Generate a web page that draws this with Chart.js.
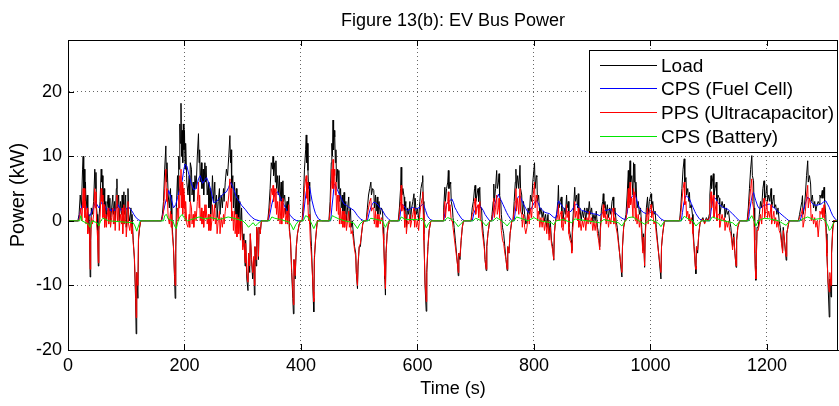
<!DOCTYPE html>
<html>
<head>
<meta charset="utf-8">
<script src="https://cdn.jsdelivr.net/npm/chart.js@4.4.1/dist/chart.umd.min.js"></script>
<style>
  html, body { margin: 0; padding: 0; background: #fff; }
  #wrap { width: 839px; height: 406px; }
</style>
</head>
<body>
<div id="wrap"><canvas id="busPowerctr" width="839" height="406"></canvas></div>
<script>
// Figure 13(b): EV Bus Power -- [time (s), power (kW)]
const seriesNames = ['Load', 'CPS (Fuel Cell)', 'PPS (Ultracapacitor)', 'CPS (Battery)'];
const xTicks = [0, 200, 400, 600, 800, 1000, 1200];
const yTicks = [-20, -10, 0, 10, 20];

const loadPts = [
  [0,0],[17,0],
  [19,1],[21,4],[23,2],[25,8],[26,10],[27,5],[28,8],[29,3],[30,6],[31,2],[33,4],[34,-1],[36,1],[37,-2],[38,-8.7],[39,-3],[40,2],[42,1],[44,3],[46,8],[47,5],[48,7.5],[49,2],[50,1],[51,-2],[52,-7],[53,0],[55,3],[57,8],[58,6],[59,7],[60,3],[62,5],[63,1],[65,3],[66,0],[67,2],[69,4],[70,1],[72,3.5],[73,0],[75,2],[77,4],[78,1],[80,3],[81,-0.5],[83,5],[84,6.5],[85,2],[87,4],[88,0],[90,3],[92,1],[93,4],[94,-0.5],[96,4.5],[97,1],[99,4],[100,-1],[102,2],[103,5],[104,1],[106,0],[108,2],[109,-1],[110,1],[112,-3],[114,-6],[116,-12],[117,-17.5],[118,-8],[120,-12],[121,-3],[123,-1],[125,0],
  [160,0],
  [162,1],[164,3],[166,8],[168,11.6],[169,6],[170,9],[172,4],[174,2],[176,5],[177,1],[178,4],[179,-1],[181,-4],[183,-9],[184,-12],[185,-5],[186,2],[188,7],[189,4],[190,10],[191,8],[192,15],[193,12],[194,18.2],[195,10],[196,14],[197,9],[198,15],[199,11],[200,14],[201,8],[202,12],[204,6],[206,4],[208,7],[209,3],[210,9],[212,8],[213,4],[215,6],[216,3],[218,7],[220,5],[222,10],[224,13.5],[225,9],[226,11],[227,6],[229,9],[230,5],[232,8],[233,4],[235,9],[236,6],[237,8.5],[239,4],[241,6],[242,2],[244,5],[245,1],[247,4],[248,7],[250,3],[252,6],[253,2],[255,4],[256,0.5],[258,3],[260,5],[261,1],[263,4],[265,2],[267,5],[268,3],[270,6],[272,8],[274,7],[276,10],[278,13.2],[279,9],[280,11],[281,5],[283,7],[284,2],[286,6],[287,1],[289,5],[290,-1],[292,4],[293,0],[295,3],[296,-2],[298,2],[300,-4],[302,-2],[304,-7],[305,-3],[307,-9],[309,-10.8],[310,-5],[312,-8],[313,-2],[315,-6],[317,-9],[319,-6],[320,-11.5],[321,-4],[323,-7],[324,-1],[326,-3],[327,-6],[328,-1],[330,-2],[332,0],
  [343,0],[345,2],[347,5],[349,9],[351,8],[352,10],[353,7],[355,9],[356,6],[357,9.3],[358,5],[360,7],[361,4],[363,7],[364,3],[366,6],[367,2],[369,6.2],[370,3],[372,4],[374,1],[376,3],[377,0.5],[379,3.7],[380,-1],[382,-3],[384,-8],[386,-12],[387,-14.4],[388,-6],[390,-9],[392,-4],[394,-2],[397,-0.5],[399,0],
  [402,0],[404,3],[406,8],[408,11],[409,13.3],[410,9],[411,12],[412,7.8],[413,5],[414,6],[415,3],[416,0],[418,-4],[420,-9],[421,-12],[422,-14.1],[423,-6],[425,-3],[427,-1],[428,0],
  [448,0],[450,3],[452,9],[453,12],[454,10],[455,15.6],[456,11],[457,14],[458,13],[459,9],[460,11],[461,6],[463,8],[464,5],[465,7.8],[466,3],[468,5],[469,2],[471,4],[472,1],[474,4.4],[475,1],[477,3],[478,0],[480,2],[482,3.7],[483,0],[485,2],[486,-1],[488,0],[490,-2],[492,-4],[494,-5],[495,-8],[497,-10.5],[498,-7],[500,-4],[502,-4],[504,-2],[506,-0.5],[508,0],
  [512,0],[514,2],[516,4],[518,5],[520,6],[521,4],[523,5],[525,4.7],[526,2],[528,4],[529,1.5],[531,3.7],[532,1],[534,3],[536,1],[538,2],[540,1.6],[541,-1],[542,-3],[543,-6],[544,-9],[545,-11.5],[546,-5],[548,-2],[550,-0.5],[551,0],
  [567,0],[569,2],[571,5],[572,8.3],[573,4],[575,5],[577,3.7],[578,1],[580,3],[581,-1],[583,2],[585,1],[587,3],[588,0],[590,2],[592,3],[594,4.2],[595,1],[596,3.5],[598,1],[600,2],[602,0],[604,3],[606,5],[608,6],[609,7],[610,3],[611,-2],[612,-6],[613,-10],[615,-14],[616,-8],[618,-4],[620,-1.5],[623,0],
  [644,0],[645,2],[647,5.2],[648,3],[650,5],[652,6],[653,7.8],[654,5],[656,6],[657,5.7],[658,3],[660,2],[661,0.5],[663,-1],[665,-3],[667,-5],[669,-7],[670,-8.5],[671,-5],[673,-6],[675,-3],[677,-1],[679,0],
  [692,0],[694,2],[696,3],[698,5],[699,5.5],[700,3],[702,4],[704,5],[705,3],[707,5.2],[708,2],[710,2],[711,0],[713,-2],[715,-4],[716,-6],[718,-7.7],[719,-4],[721,-2],[724,0],
  [727,0],[728,1],[730,3],[731,5.7],[732,3],[734,5],[736,7.8],[737,5],[739,6],[740,7.3],[741,4],[743,3],[744,1],[746,-1],[748,-2],[750,-4],[752,-6],[754,-7.7],[755,-4],[757,-5],[759,-2],[762,0],
  [764,0],[766,3],[768,6],[769,8],[770,5],[772,7],[774,5],[776,8.6],[777,5],[779,4],[780,1],[782,3],[784,1],[786,-0.5],[788,0],[790,2],[792,1],[794,4],[796,3],[798,6],[800,8],[801,9],[802,5],[804,7],[805,6.8],[806,3],[808,4],[810,1],[812,2],[814,0.5],[816,1.5],[818,0],[820,1],[822,-1],[824,1],[826,-2],[828,0],[830,-3],[832,-4],[834,-6.1],[835,-2],[837,0],
  [839,1],[841,3],[842,5.5],[843,2],[845,3],[847,3.7],[848,1],[850,0],[852,2],[854,1],[856,4],[857,2],[859,3],[860,-1],[862,-2],[864,-3],[865,-4.6],[866,-1],[868,2],[870,5.2],[871,3],[873,4],[875,2],[876,4.2],[877,1],[879,2],[881,0],[883,1.5],[885,0.5],[887,2],[889,0],[891,2],[893,1],[895,3],[897,1],[899,2],[901,0],[903,1],[905,0],[907,1.5],[909,-1],[911,-2],[913,-4],[914,-1],[916,2],[918,3],[919,4.2],[920,2],[922,3],[924,1],[926,2.5],[928,0.5],[930,2],[932,1],[934,3],[936,3.7],[937,1],[939,2],[941,0],[943,-1],[945,-3],[947,-5],[949,-7],[951,-8.7],[952,-4],[954,-1],[956,0],
  [958,1],[960,4],[962,7.8],[963,5],[965,9.3],[966,6],[968,7],[970,4],[971,9],[972,6],[973,8.8],[974,4],[975,6],[977,2],[979,3],[981,1],[983,2],[985,-1],[987,-4.6],[988,-2],[990,-7.2],[991,-2],[993,2],[995,3.7],[996,1],[998,3],[1001,4.2],[1002,2],[1004,3],[1006,1],[1008,1.5],[1010,-1],[1012,-3],[1014,-5],[1016,-7],[1018,-9],[1019,-4],[1021,-2],[1024,0],
  [1050,0],[1052,2],[1054,5],[1056,8],[1058,9.6],[1059,6],[1061,6.7],[1062,4],[1064,5],[1066,3],[1067,4.4],[1068,2],[1070,2.5],[1072,1],[1073,-1],[1075,-4],[1077,-7],[1078,-8.2],[1079,-4],[1081,-5],[1083,-2],[1085,-0.5],[1087,0],[1090,0.5],[1093,-0.3],[1096,0.5],[1099,0],
  [1101,1],[1102,4],[1104,7],[1105,5],[1106,6],[1108,7.3],[1109,4],[1111,5],[1113,6],[1114,3],[1116,4],[1118,3.5],[1119,1],[1121,2],[1123,3],[1125,2],[1127,2.6],[1128,0.5],[1130,2],[1132,1],[1134,1.5],[1136,0],[1138,-1],[1140,-3],[1141,-4],[1143,-2],[1145,-5],[1147,-7.2],[1148,-3],[1150,-1],[1153,0],
  [1166,0],[1168,2],[1170,5],[1172,8],[1174,10.1],[1175,7],[1177,6.2],[1178,2],[1179,-3],[1180,-7],[1181,-9.2],[1182,-5],[1183,-1],[1185,-1],[1187,1],[1189,3],[1191,2],[1193,5],[1195,6.2],[1196,3],[1198,4],[1200,5.5],[1201,3],[1203,4],[1205,3],[1207,5],[1208,2],[1210,3],[1212,4],[1213,2],[1215,2.5],[1217,1],[1219,2],[1221,0],[1223,-1],[1225,-3],[1227,-4.6],[1228,-1],[1230,-3],[1232,-5],[1233,-6.1],[1234,-2],[1236,-1],[1238,0],
  [1254,0],[1256,1],[1258,2],[1260,3],[1261,3.9],[1262,1],[1264,2],[1266,4],[1268,7],[1270,9.3],[1271,6],[1273,7],[1275,5.7],[1276,3],[1278,4],[1280,2],[1282,3],[1284,1.5],[1286,2.5],[1288,3],[1290,2.6],[1291,4],[1293,3.5],[1295,4.7],[1296,3.5],[1298,5.2],[1299,3],[1301,1],[1302,-2],[1303,-5],[1305,-10],[1307,-14.9],[1308,-9],[1310,-11.8],[1311,-5],[1313,-1],[1315,0],[1322,0]
];

const fuelCellPts = [
  [0,0],[18,0],[20,1],[23,2],[26,3],[29,2.5],[32,2],[35,1],[38,0.8],[41,1.5],[44,2],[47,3],[50,2.5],[53,2],[56,2.5],[59,3],[62,2.5],[65,2],[68,1.5],[71,2],[74,1.5],[77,2],[80,1.5],[83,2],[86,2.5],[89,2],[92,1.5],[95,2],[98,1.5],[101,2],[104,2.2],[107,1.8],[110,1.5],[113,1],[116,0.6],[119,0.3],[122,0.1],[126,0],
  [161,0],[164,1.5],[168,3.1],[173,4.7],[177,3.5],[181,2],[185,2.5],[188,3.6],[192,5],[196,6.2],[199,8],[201,8.8],[204,8.5],[208,7],[212,5.7],[216,4.8],[220,5],[224,6.5],[227,7],[231,5.8],[234,6.2],[238,6.7],[242,5.8],[246,4.5],[250,2.8],[255,3],[260,3.5],[267,4.2],[272,4.5],[276,5.2],[279,6],[283,5.3],[289,3.7],[294,3],[298,2.4],[304,1.8],[309,1.2],[315,0.6],[321,0.2],[329,0],
  [344,0],[347,1.2],[350,2.6],[353,3.6],[356,4.2],[360,4.5],[364,3.7],[367,3.2],[370,2.6],[373,2.1],[376,1.6],[379,1.2],[382,0.8],[387,0.3],[393,0],
  [403,0],[405,1.5],[407,3.1],[409,4.5],[411,5.3],[413,5.5],[415,5.2],[417,4.1],[419,3.1],[422,2],[425,1.1],[430,0.3],[436,0],
  [451,0],[453,2],[455,3.7],[457,5.7],[459,5.6],[462,4.9],[465,4.3],[468,3.7],[471,3.1],[474,2.6],[478,2.4],[482,2.1],[486,1.9],[491,1.6],[494,1.2],[497,0.8],[502,0.3],[508,0],
  [514,0],[517,1.2],[520,2.1],[523,2.7],[525,2.9],[528,2.8],[531,2.6],[535,2.1],[540,1.6],[545,0.8],[551,0.2],[555,0],
  [569,0],[571,1.5],[574,2.6],[577,2.3],[580,1.9],[583,1.6],[587,1.8],[591,2.1],[596,1.9],[600,1.9],[605,2.2],[609,2.6],[611,2.4],[614,1.6],[617,0.8],[620,0.4],[623,0.15],[628,0],
  [645,0],[647,1.2],[650,2.6],[654,3],[659,3.4],[662,2.8],[664,2.1],[667,1.6],[670,1.1],[676,0.3],[681,0],
  [694,0],[697,1.2],[701,2.1],[704,2.2],[707,2.4],[710,2],[713,1.6],[716,1],[719,0.6],[724,0],
  [728,0],[730,1.2],[733,2.6],[736,3.5],[739,4.1],[741,3.6],[744,3.1],[747,2.5],[750,1.9],[753,1.3],[756,0.8],[762,0],
  [766,0],[768,1.5],[771,3.4],[774,3.8],[776,3.9],[779,3.2],[782,2.6],[786,1.9],[790,1.3],[794,1.6],[799,2.6],[802,3],[805,3.1],[808,2.6],[810,2.1],[815,1.6],[819,1.3],[823,1.2],[827,1.1],[833,0.6],[837,0.4],
  [840,1.5],[842,3.1],[846,2.6],[850,2.1],[855,1.6],[859,1.3],[864,1.5],[868,2.1],[871,2.5],[873,2.6],[877,2.1],[882,1.6],[887,1.5],[893,1.3],[898,1.2],[902,1.1],[908,1],[913,0.8],[917,1.2],[922,1.6],[927,1.7],[931,1.8],[935,1.5],[939,1.3],[944,0.9],[948,0.6],[953,0.3],[957,0.2],
  [960,1.2],[962,2.6],[965,3.2],[968,3.7],[971,4],[973,4.2],[976,3.4],[978,2.6],[981,2],[984,1.6],[988,1.3],[993,1.1],[997,1.3],[1001,1.6],[1005,1.4],[1010,1.1],[1014,0.7],[1018,0.3],[1024,0],
  [1053,0],[1055,1.3],[1057,2.6],[1059,3.4],[1061,3.9],[1064,3.7],[1067,3.4],[1070,2.7],[1073,2.1],[1076,1.5],[1078,1.1],[1084,0.3],[1090,0],
  [1102,0],[1104,1.5],[1107,3.1],[1110,3.6],[1113,3.3],[1115,2.9],[1119,2.5],[1124,2.1],[1129,1.9],[1133,1.8],[1137,1.4],[1141,1.1],[1147,0.5],[1153,0],
  [1168,0],[1170,1.5],[1173,3.1],[1175,4],[1177,4.4],[1179,3.7],[1181,3.1],[1184,2.3],[1187,1.9],[1191,2.1],[1195,2.4],[1200,2.5],[1204,2.6],[1208,2.3],[1213,2],[1217,1.6],[1221,1.3],[1226,0.9],[1230,0.6],[1234,0.3],[1238,0],
  [1257,0],[1260,1],[1264,2.1],[1267,3],[1270,3.7],[1273,3.3],[1276,2.9],[1280,2.5],[1284,2.4],[1289,2.5],[1293,2.6],[1297,2.9],[1301,3.1],[1304,2.6],[1307,2.1],[1310,1.4],[1313,0.8],[1318,0.2],[1321,0],[1322,0]
];

const ultracapPts = [
  [0,0],[18,0],
  [20,0.5],[22,2],[24,0],[26,5],[27,2],[28,5],[29,0.5],[30,3],[31,-0.5],[33,2],[34,-2],[36,-0.5],[37,-2.5],[38,-7.5],[39,-3],[40,0.5],[42,-0.5],[44,1],[46,5],[47,2],[48,4.5],[49,-0.5],[50,-1.5],[51,-3],[52,-6.5],[53,-1.5],[55,0.5],[57,5],[58,3],[59,4],[60,0.5],[62,2.5],[63,-1],[65,1],[66,-1],[67,0.5],[69,2],[70,-0.5],[72,1.5],[73,-1],[75,0.5],[77,2],[78,-0.5],[80,1.5],[81,-1.5],[83,2.5],[84,4],[85,0],[87,2],[88,-1.5],[90,1],[92,-0.5],[93,2],[94,-2],[96,2.5],[97,-0.5],[99,2],[100,-2.5],[102,0],[103,3],[104,-0.5],[106,-1.5],[108,0],[109,-2],[110,-0.5],[112,-3.5],[114,-5.5],[116,-11],[117,-15],[118,-8],[120,-10],[121,-2.5],[123,-1],[125,0],
  [160,0],[162,0.5],[164,1.5],[166,5],[168,8],[169,3],[170,5],[172,0.5],[174,-0.5],[176,1.5],[177,-1],[178,1],[179,-2],[181,-4],[183,-8.5],[184,-10],[185,-4],[186,-0.5],[188,2],[189,0],[190,4],[191,2],[192,7],[193,4],[194,8],[195,2],[196,6],[197,1],[198,5],[199,2],[200,4],[201,0],[202,3],[204,-0.5],[206,-1],[208,1],[209,-1],[210,3],[212,2],[213,-0.5],[215,1],[216,-1],[218,1.5],[220,0],[222,3],[224,6],[225,2],[226,4],[227,0],[229,2],[230,-0.5],[232,1.5],[233,-1],[235,2.5],[236,0.5],[237,2.5],[239,-0.5],[241,1],[242,-1.5],[244,1],[245,-1.5],[247,0],[248,2.5],[250,0],[252,2.5],[253,-0.5],[255,0.5],[256,-2],[258,0],[260,1.5],[261,-2],[263,0.5],[265,-1],[267,1],[268,-0.5],[270,1.5],[272,3],[274,2],[276,4],[278,6.5],[279,3],[280,5],[281,0],[283,1.5],[284,-1.5],[286,1.5],[287,-2],[289,1],[290,-2.5],[292,0.5],[293,-2],[295,0],[296,-3],[298,0],[300,-4.5],[302,-3],[304,-6.5],[305,-3.5],[307,-8],[309,-9.5],[310,-5],[312,-7],[313,-2],[315,-5.5],[317,-8],[319,-5.5],[320,-10],[321,-4],[323,-6],[324,-1],[326,-3],[327,-5.5],[328,-1],[330,-2],[332,0],
  [343,0],[345,1],[347,2.5],[349,5],[351,4],[352,5.5],[353,3],[355,5],[356,2],[357,5],[358,1],[360,3],[361,0],[363,3],[364,-0.5],[366,3],[367,-0.5],[369,3.5],[370,0.5],[372,2],[374,-0.5],[376,1.5],[377,-0.5],[379,2.5],[380,-1.5],[382,-3],[384,-7.5],[386,-11],[387,-13],[388,-6],[390,-8.5],[392,-4],[394,-2],[397,-0.5],[399,0],
  [402,0],[404,1.5],[406,5],[408,6.5],[409,7],[410,3.5],[411,6],[412,2.5],[413,0],[414,1],[415,-0.5],[416,-3],[418,-5.5],[420,-9],[421,-11],[422,-12.5],[423,-5.5],[425,-3],[427,-1],[428,0],
  [448,0],[450,1.5],[452,6],[453,8],[454,5],[455,9.5],[456,5],[457,8],[458,7],[459,4],[460,6],[461,1.5],[463,4],[464,1],[465,4],[466,-0.5],[468,2],[469,-0.5],[471,1.5],[472,-1],[474,1.5],[475,-1],[477,1],[478,-1.5],[480,0],[482,1.5],[483,-1],[485,0],[486,-2],[488,-1.5],[490,-3],[492,-4.5],[494,-5.5],[495,-8],[497,-10],[498,-6.5],[500,-4],[502,-3.5],[504,-2],[506,-0.5],[508,0],
  [512,0],[514,1],[516,2],[518,3],[520,3.5],[521,1.5],[523,2],[525,2],[526,-0.5],[528,1.5],[529,-1],[531,1],[532,-1],[534,1],[536,-0.5],[538,0.5],[540,0],[541,-2],[542,-3.5],[543,-6],[544,-8.5],[545,-10.5],[546,-5],[548,-2],[550,-0.5],[551,0],
  [567,0],[569,1],[571,3],[572,5.5],[573,1.5],[575,2.5],[577,1.5],[578,-1],[580,1],[581,-2],[583,0],[585,-0.5],[587,1],[588,-1],[590,0],[592,1],[594,2],[595,-1],[596,1.5],[598,-1],[600,0],[602,-1.5],[604,1],[606,2.5],[608,3.5],[609,4.5],[610,1],[611,-3],[612,-6],[613,-9.5],[615,-12.5],[616,-7.5],[618,-4],[620,-1.5],[623,0],
  [644,0],[645,1],[647,3],[648,0.5],[650,2.5],[652,3],[653,4.5],[654,1.5],[656,2.5],[657,2.5],[658,0],[660,0],[661,-1],[663,-2.5],[665,-4],[667,-5.5],[669,-7],[670,-8],[671,-5],[673,-5.5],[675,-3],[677,-1],[679,0],
  [692,0],[694,1],[696,1.5],[698,3],[699,3.5],[700,1],[702,2],[704,2.5],[705,0.5],[707,3],[708,0],[710,0],[711,-1.5],[713,-3],[715,-4.5],[716,-6],[718,-7.5],[719,-4],[721,-2],[724,0],
  [727,0],[728,0.5],[730,1.5],[731,3.5],[732,0.5],[734,2],[736,4],[737,1],[739,2],[740,3.5],[741,0.5],[743,0],[744,-1.5],[746,-3],[748,-3.5],[750,-5],[752,-6],[754,-7.5],[755,-4],[757,-5],[759,-2],[762,0],
  [764,0],[766,1.5],[768,3],[769,5],[770,1.5],[772,3.5],[774,1],[776,5],[777,1.5],[779,1],[780,-1],[782,1],[784,-1],[786,-2],[788,-1],[790,1],[792,-0.5],[794,2],[796,0.5],[798,3.5],[800,5],[801,6],[802,2],[804,4],[805,3.5],[806,0],[808,1.5],[810,-1],[812,0.5],[814,-1],[816,0.5],[818,-1.5],[820,0],[822,-2],[824,0],[826,-3],[828,-1],[830,-3.5],[832,-4.5],[834,-6],[835,-2],[837,0],
  [839,0],[841,1],[842,2.5],[843,0],[845,1],[847,1.5],[848,-1],[850,-1.5],[852,0.5],[854,-0.5],[856,2.5],[857,0.5],[859,1.5],[860,-2],[862,-3],[864,-3.5],[865,-5],[866,-2],[868,0],[870,3],[871,0.5],[873,1.5],[875,0],[876,2],[877,-1],[879,0],[881,-1.5],[883,0],[885,-1],[887,0.5],[889,-1.5],[891,0.5],[893,-0.5],[895,1.5],[897,-0.5],[899,0.5],[901,-1.5],[903,0],[905,-1.5],[907,0],[909,-2],[911,-3],[913,-4.5],[914,-1.5],[916,0.5],[918,1.5],[919,2.5],[920,0.5],[922,1.5],[924,-0.5],[926,1],[928,-1],[930,0.5],[932,-0.5],[934,1.5],[936,2],[937,-0.5],[939,0.5],[941,-1],[943,-2],[945,-3.5],[947,-5],[949,-6.5],[951,-8],[952,-4],[954,-1],[956,0],
  [958,0],[960,2],[962,5],[963,2],[965,6],[966,2.5],[968,3.5],[970,0.5],[971,5],[972,2],[973,4.5],[974,0],[975,2],[977,-0.5],[979,1],[981,-1],[983,0.5],[985,-2],[987,-5],[988,-2.5],[990,-7],[991,-2.5],[993,0.5],[995,2],[996,-0.5],[998,1.5],[1001,2.5],[1002,0.5],[1004,1.5],[1006,-0.5],[1008,0],[1010,-2],[1012,-3.5],[1014,-5],[1016,-6.5],[1018,-8],[1019,-4],[1021,-2],[1024,0],
  [1050,0],[1052,1],[1054,3],[1056,5],[1058,6],[1059,2.5],[1061,3],[1062,0.5],[1064,1.5],[1066,0],[1067,1],[1068,-0.5],[1070,0.5],[1072,-0.5],[1073,-2],[1075,-4.5],[1077,-7],[1078,-7.5],[1079,-4],[1081,-4.5],[1083,-2],[1085,-0.5],[1087,0],[1090,0.3],[1093,-0.5],[1096,0.3],[1099,0],
  [1101,0.5],[1102,2.5],[1104,4.5],[1105,2],[1106,3],[1108,4],[1109,0.5],[1111,1.5],[1113,3],[1114,0],[1116,1],[1118,1],[1119,-1],[1121,0],[1123,1],[1125,0],[1127,0.5],[1128,-1.5],[1130,0],[1132,-1],[1134,0],[1136,-1.5],[1138,-2],[1140,-3.5],[1141,-4.5],[1143,-2.5],[1145,-5],[1147,-7],[1148,-3],[1150,-1],[1153,0],
  [1166,0],[1168,1],[1170,3],[1172,5],[1174,6.5],[1175,3],[1177,2],[1178,-1],[1179,-5],[1180,-7.5],[1181,-9],[1182,-5],[1183,-1.5],[1185,-1.5],[1187,-0.5],[1189,1],[1191,-0.5],[1193,2.5],[1195,3.5],[1196,0.5],[1198,1.5],[1200,3],[1201,0.5],[1203,1.5],[1205,0.5],[1207,2.5],[1208,-0.5],[1210,0.5],[1212,1.5],[1213,-0.5],[1215,0.5],[1217,-1],[1219,0],[1221,-1.5],[1223,-2],[1225,-3.5],[1227,-5],[1228,-1.5],[1230,-3],[1232,-5],[1233,-5.5],[1234,-2],[1236,-1],[1238,0],
  [1254,0],[1256,0.5],[1258,1],[1260,1.5],[1261,2],[1262,-1],[1264,0],[1266,1.5],[1268,4],[1270,5.5],[1271,2],[1273,3.5],[1275,2.5],[1276,0],[1278,1],[1280,-0.5],[1282,0.5],[1284,-1],[1286,0],[1288,-2.5],[1290,0],[1291,1.5],[1293,1],[1295,2],[1296,0.5],[1298,2.5],[1299,0.5],[1301,-1],[1302,-3],[1303,-5.5],[1305,-9.5],[1307,-11],[1308,-8],[1310,-10],[1311,-5],[1313,-1.5],[1315,0],[1322,0]
];

const batteryPts = [
  [0,0],[20,0],[22,0.8],[24,0],[35,-0.5],[38,-1],[41,0],[50,-0.3],[53,-0.8],[56,0],[60,0.4],[70,0],[112,-0.3],[115,-0.8],[118,-1.6],[121,-0.8],[124,0],
  [164,0],[166,0.8],[169,1],[172,0.3],[180,0],[183,-0.8],[186,-1.2],[189,0],[192,0.6],[196,1],[199,0.5],[205,0],[215,0.3],[225,0.6],[235,0.3],[245,0.5],[260,0.2],[275,0.6],[285,0.4],[300,0],[306,-0.5],[310,-1],[314,-0.6],[318,-0.3],[322,-0.8],[326,-0.4],[332,0],
  [346,0],[350,0.6],[355,0.4],[365,0.2],[380,-0.2],[384,-0.8],[387,-1.4],[391,-0.6],[396,0],
  [404,0],[408,0.8],[412,0.6],[416,0],[419,-0.6],[422,-1.2],[426,-0.4],[430,0],
  [450,0],[454,0.8],[458,0.6],[465,0.3],[475,0],[490,-0.3],[494,-0.8],[497,-1.2],[501,-0.5],[507,0],
  [515,0],[520,0.4],[530,0.2],[540,0],[543,-0.6],[545,-1],[548,-0.4],[552,0],
  [569,0],[572,0.6],[580,0.2],[600,0.2],[608,0.4],[612,-0.3],[615,-1.1],[619,-0.4],[624,0],
  [646,0],[652,0.5],[660,0.2],[666,-0.4],[670,-0.9],[675,-0.4],[680,0],
  [695,0],[700,0.4],[710,0],[715,-0.5],[718,-0.8],[722,-0.3],[725,0],
  [729,0],[736,0.5],[744,0],[750,-0.4],[754,-0.8],[758,-0.3],[762,0],
  [766,0],[770,0.6],[777,0.4],[790,0],[800,0.5],[810,0],[830,-0.3],[834,-0.6],[838,0],
  [850,0.2],[865,-0.3],[870,0.3],[913,-0.3],[920,0.2],[945,-0.3],[951,-0.8],[955,-0.2],
  [962,0.5],[970,0.6],[980,0],[990,-0.5],[1000,0.2],[1014,-0.4],[1018,-0.9],[1022,-0.3],[1026,0],
  [1053,0],[1058,0.7],[1065,0.3],[1073,0],[1078,-0.8],[1082,-0.4],[1088,0],
  [1102,0],[1106,0.6],[1112,0.4],[1125,0],[1141,-0.3],[1147,-0.8],[1151,-0.3],[1155,0],
  [1168,0],[1174,0.8],[1178,0],[1181,-0.8],[1185,0],[1195,0.4],[1205,0.3],[1220,0],[1227,-0.4],[1233,-0.7],[1237,-0.2],[1240,0],
  [1256,0],[1262,0.3],[1270,0.6],[1280,0.2],[1295,0.4],[1300,0],[1305,-0.8],[1307,-1.5],[1310,-1.2],[1314,-0.4],[1318,0],[1322,0]
];

const seriesPts = [loadPts, fuelCellPts, ultracapPts, batteryPts];
const seriesColors = ['#000000', '#0000ff', '#ff0000', '#00e600'];

const FONT = '"Liberation Sans", Arial, sans-serif';
Chart.defaults.font.family = FONT;
Chart.defaults.color = '#000';

// MATLAB-style box, inward ticks, title and legend
const matlabFrame = {
  id: 'matlabFrame',
  afterDraw(chart) {
    const ctx = chart.ctx;
    const {left, right, top, bottom} = chart.chartArea;
    const sx = chart.scales.x, sy = chart.scales.y;
    ctx.save();
    ctx.strokeStyle = '#000';
    ctx.lineWidth = 1;
    ctx.strokeRect(Math.round(left) + 0.5, Math.round(top) + 0.5, Math.round(right - left) - 1, Math.round(bottom - top));
    ctx.beginPath();
    xTicks.forEach(v => {
      const px = Math.round(sx.getPixelForValue(v)) + 0.5;
      ctx.moveTo(px, bottom); ctx.lineTo(px, bottom - 6);
      ctx.moveTo(px, top); ctx.lineTo(px, top + 6);
    });
    yTicks.forEach(v => {
      const py = Math.round(sy.getPixelForValue(v)) + 0.5;
      ctx.moveTo(left, py); ctx.lineTo(left + 6, py);
      ctx.moveTo(right, py); ctx.lineTo(right - 6, py);
    });
    ctx.stroke();

    // title
    ctx.fillStyle = '#000';
    ctx.font = '18px ' + FONT;
    ctx.textAlign = 'center';
    ctx.textBaseline = 'middle';
    ctx.fillText('Figure 13(b): EV Bus Power', (left + right) / 2, 21);

    // legend box (north-east, inside axes)
    const x0 = right - 249, y0 = top + 9.5, w = 248, h = 102;
    ctx.fillStyle = '#fff';
    ctx.fillRect(x0, y0, w, h);
    ctx.strokeStyle = '#000';
    ctx.strokeRect(Math.round(x0) + 0.5, Math.round(y0) + 0.5, w, h);
    ctx.font = '19px ' + FONT;
    ctx.textAlign = 'left';
    chart.data.datasets.forEach((ds, i) => {
      const y = Math.round(y0 + 15 + i * 23.8) + 0.5;
      ctx.strokeStyle = ds.borderColor;
      ctx.beginPath();
      ctx.moveTo(x0 + 11, y);
      ctx.lineTo(x0 + 68, y);
      ctx.stroke();
      ctx.fillStyle = '#000';
      ctx.fillText(ds.label, x0 + 72, y + 1);
    });
    ctx.restore();
  }
};

const ctxPower = document.getElementById('busPowerctr').getContext('2d');
const busPowerChart = new Chart(ctxPower, {
  type: 'line',
  data: {
    datasets: seriesNames.map((name, i) => ({
      label: name,
      data: seriesPts[i].map(([t, p]) => ({x: t, y: p})),
      borderColor: seriesColors[i],
      backgroundColor: seriesColors[i],
      borderWidth: 1,
      pointRadius: 0,
      fill: false,
      tension: 0,
      order: 4 - i   // Load drawn first, battery on top
    }))
  },
  options: {
    responsive: false,
    animation: false,
    devicePixelRatio: 1,
    parsing: false,
    layout: { padding: { top: 40, right: 1, left: 0, bottom: 0 } },
    plugins: {
      legend: { display: false },
      tooltip: { enabled: false },
      title: { display: false }
    },
    scales: {
      x: {
        type: 'linear',
        min: 0,
        max: 1322,
        afterFit: s => { s.height = 56; },
        afterBuildTicks: s => { s.ticks = xTicks.map(v => ({value: v})); },
        ticks: {
          autoSkip: false,
          maxRotation: 0,
          padding: 5,
          font: { size: 18 },
          callback: v => String(v)
        },
        grid: { color: '#666', lineWidth: 1, drawTicks: false },
        border: { display: true, color: '#000', dash: [1, 3] },
        title: { display: true, text: 'Time (s)', font: { size: 18 }, padding: { top: 0, bottom: 6 } }
      },
      y: {
        type: 'linear',
        min: -20,
        max: 28,
        afterFit: s => { s.width = 68; },
        afterBuildTicks: s => { s.ticks = yTicks.map(v => ({value: v})); },
        ticks: {
          padding: 6,
          font: { size: 18 },
          callback: v => String(v)
        },
        grid: { color: '#666', lineWidth: 1, drawTicks: false },
        border: { display: true, color: '#000', dash: [1, 3] },
        title: { display: true, text: 'Power (kW)', font: { size: 20 }, padding: { top: 6, bottom: 0 } }
      }
    }
  },
  plugins: [matlabFrame]
});
</script>
</body>
</html>
